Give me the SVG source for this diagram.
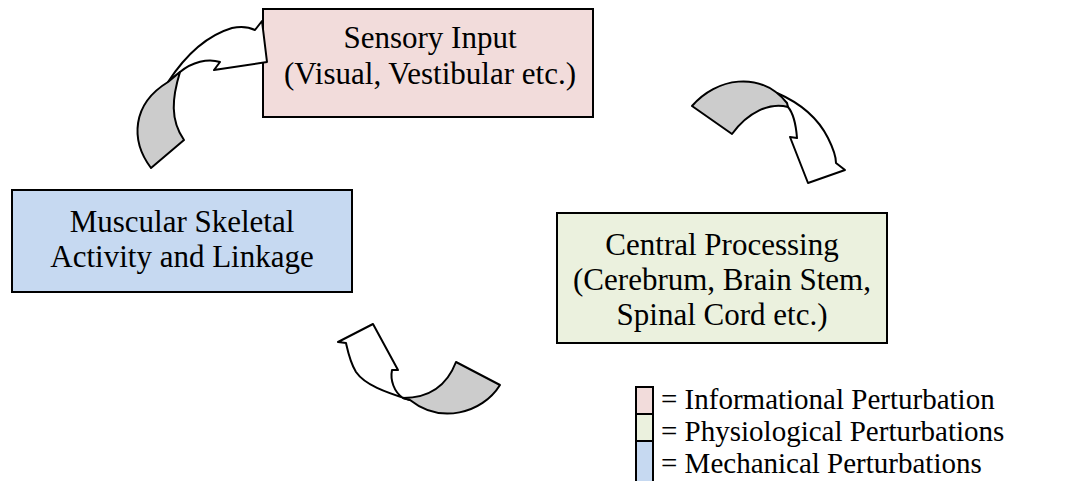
<svg xmlns="http://www.w3.org/2000/svg" width="1068" height="481" viewBox="0 0 1068 481">
  <style>
    .box { stroke: #000; stroke-width: 2; }
    .lbl { font-family: "Liberation Serif", "Times New Roman", serif; font-size: 31px; fill: #000; text-anchor: middle; }
    .leg { font-family: "Liberation Serif", "Times New Roman", serif; font-size: 29px; fill: #000; }
    .ribbon { fill: #cccccc; stroke: #000; stroke-width: 2; stroke-linejoin: round; }
    .shaft { fill: #ffffff; stroke: #000; stroke-width: 2; stroke-linejoin: round; }
    .info { fill: #f2dcdb; }
    .phys { fill: #ebf1de; }
    .mech { fill: #c6d9f1; }
  </style>
  <rect width="1068" height="481" fill="#ffffff"/>

  <!-- nodes -->
  <g id="sensory-input">
    <rect class="box info" x="263" y="9" width="330" height="108"/>
    <text class="lbl" x="430" y="48">Sensory Input</text>
    <text class="lbl" x="430" y="84">(Visual, Vestibular etc.)</text>
  </g>
  <g id="muscular-skeletal">
    <rect class="box mech" x="12" y="190" width="340" height="102"/>
    <text class="lbl" x="182" y="232">Muscular Skeletal</text>
    <text class="lbl" x="182" y="267">Activity and Linkage</text>
  </g>
  <g id="central-processing">
    <rect class="box phys" x="557" y="213" width="330" height="130"/>
    <text class="lbl" x="722" y="255">Central Processing</text>
    <text class="lbl" x="722" y="290">(Cerebrum, Brain Stem,</text>
    <text class="lbl" x="722" y="325">Spinal Cord etc.)</text>
  </g>

  <!-- connectors: curved block arrows with a twisted ribbon tail -->
  <g id="connectors">
    <!-- muscular skeletal -> sensory input -->
    <g id="arrow-to-sensory">
      <path class="shaft" d="M168,82 C185,56 205,36 232,28 C241,26 249,27 255,30 L262,21 L267,62 L214,70 L220,62 C208,58 192,62 180,72 Z"/>
      <path class="ribbon" d="M151,168 C130,140 132,104 168,82 L180,72 C172,98 170,120 184,140 Z"/>
    </g>
    <!-- sensory input -> central processing -->
    <g id="arrow-to-central">
      <path class="shaft" d="M777,93 C800,103 818,118 828,138 C833,148 836,156 836,163 L845,170 L808,183 L790,137 L797,138 C796,125 794,114 788,107 Z"/>
      <path class="ribbon" d="M692,106 C716,78 760,70 787,103 L788,107 C770,102 748,112 732,134 Z"/>
    </g>
    <!-- central processing -> muscular skeletal -->
    <g id="arrow-to-muscular">
      <path class="shaft" d="M410,400 C385,392 365,385 356,372 C350,362 348,352 346,343 L338,342 L373,324 L398,370 L392,370 C390,380 394,392 403,398 Z"/>
      <path class="ribbon" d="M456,362 C446,388 426,398 403,398 L410,400 C440,424 482,414 500,385 Z"/>
    </g>
  </g>

  <!-- legend -->
  <g id="legend">
    <rect class="box info" x="636" y="387" width="17" height="27"/>
    <rect class="box phys" x="636" y="414" width="17" height="27"/>
    <rect class="box mech" x="636" y="441" width="17" height="42"/>
    <text class="leg" x="661" y="409">= Informational Perturbation</text>
    <text class="leg" x="661" y="441">= Physiological Perturbations</text>
    <text class="leg" x="661" y="473">= Mechanical Perturbations</text>
  </g>
</svg>
